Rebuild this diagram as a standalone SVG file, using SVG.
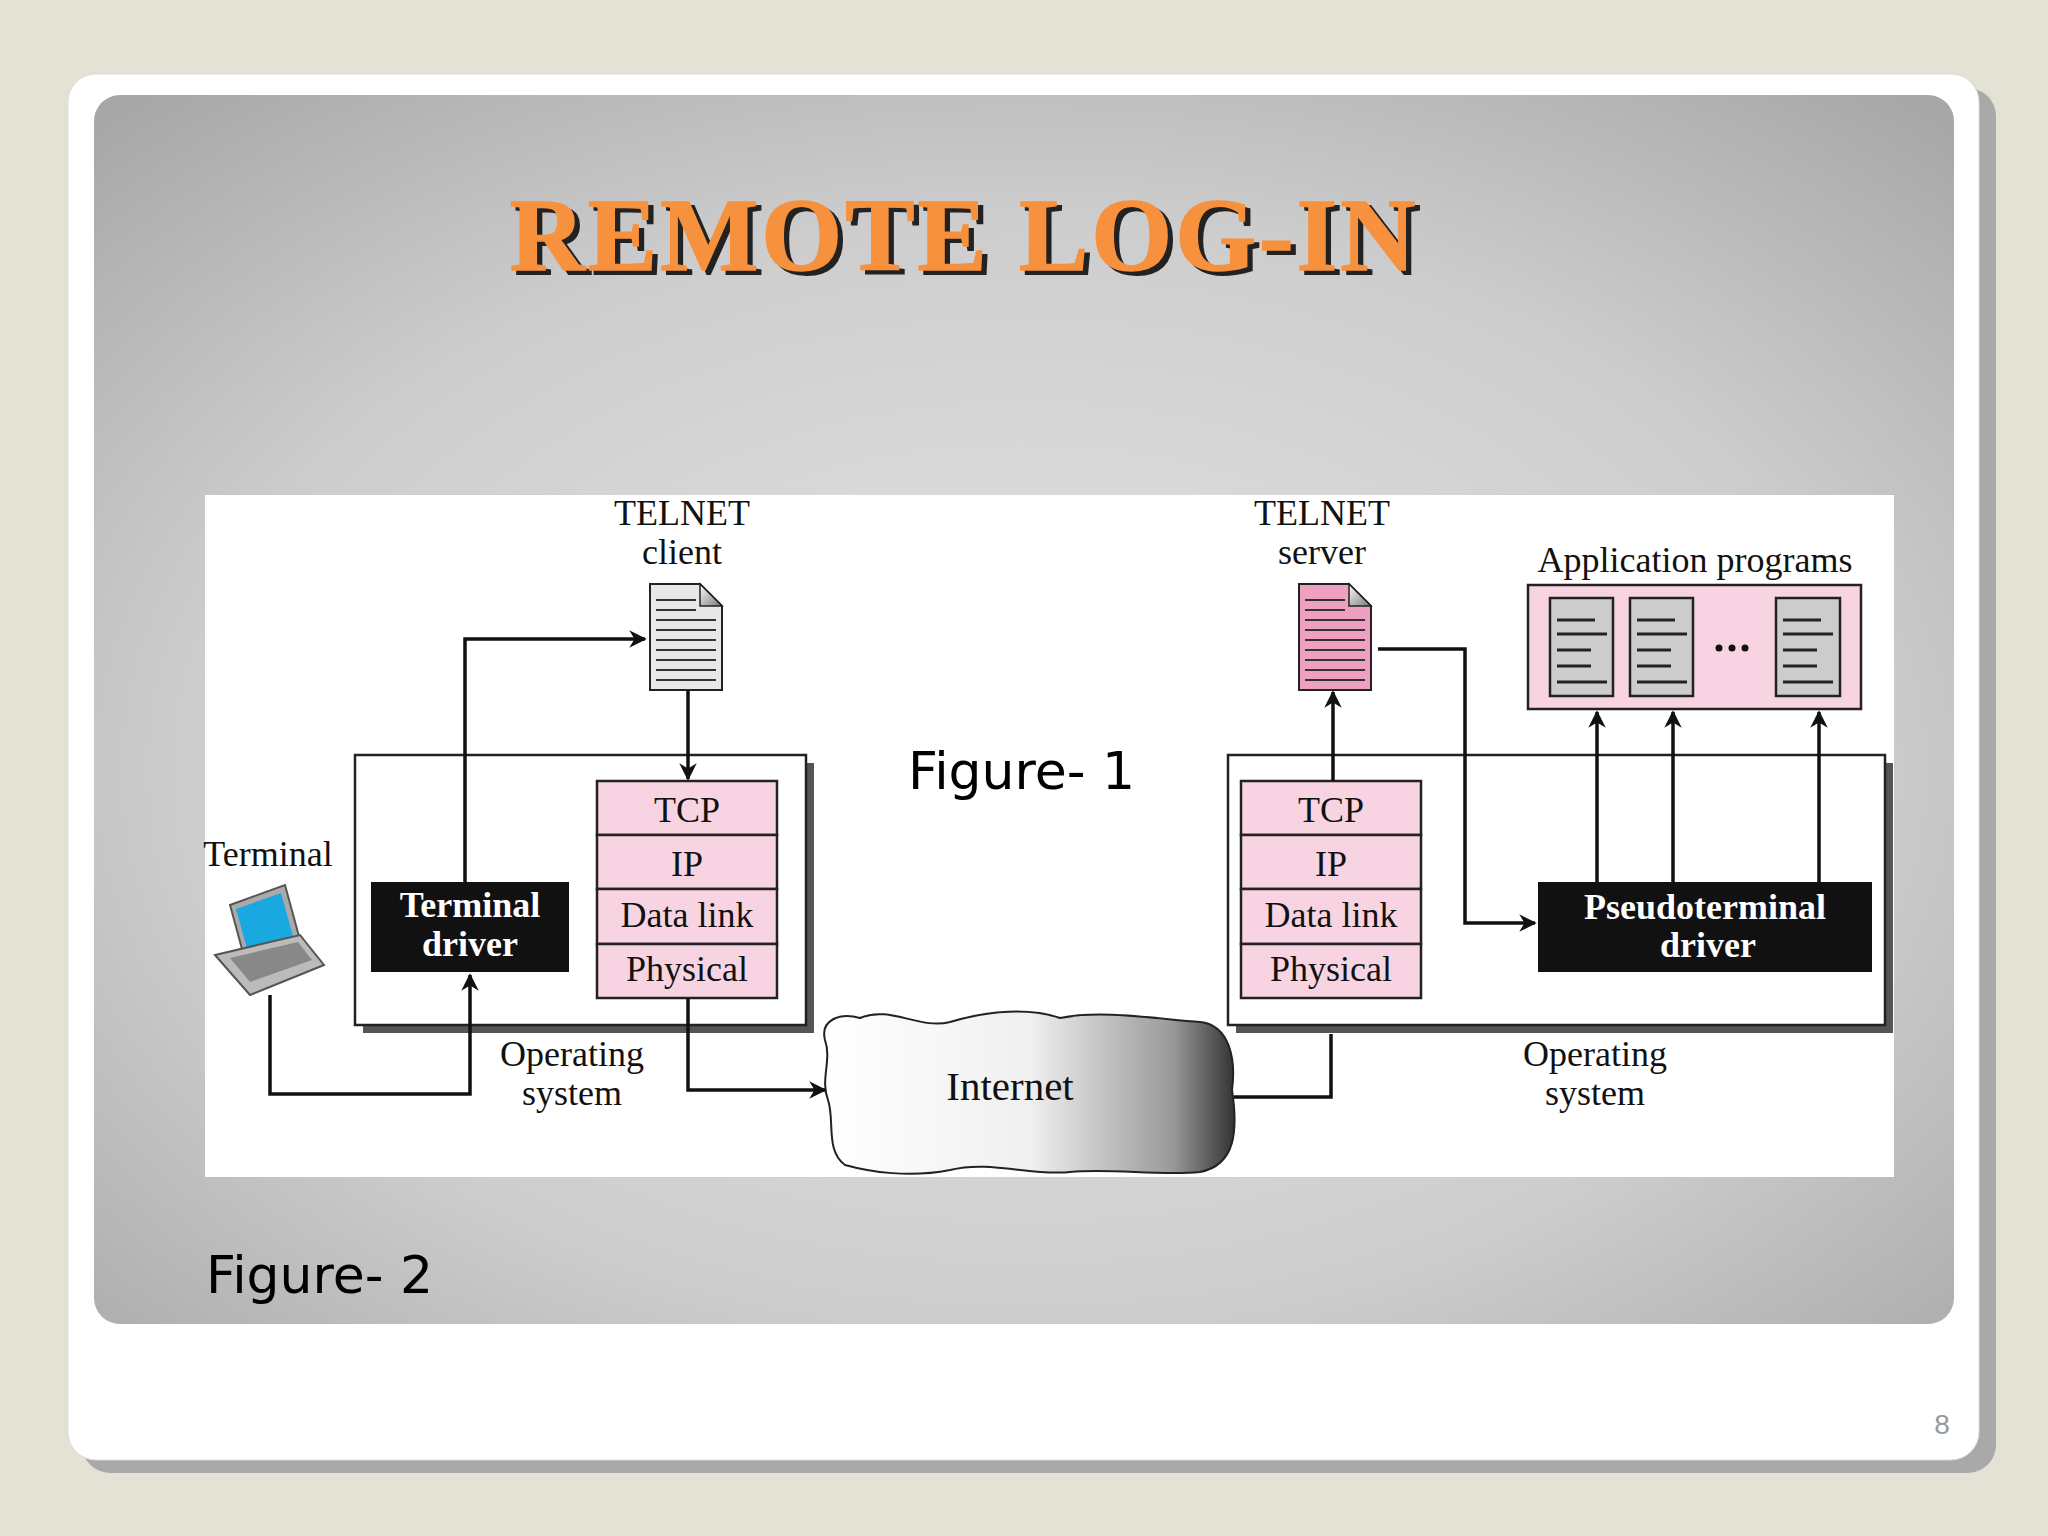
<svg xmlns="http://www.w3.org/2000/svg" width="2048" height="1536" viewBox="0 0 2048 1536">
<defs>
<radialGradient id="pg" cx="0.5" cy="0.55" r="0.75">
<stop offset="0" stop-color="#e6e6e6"/><stop offset="0.6" stop-color="#cdcdcd"/><stop offset="1" stop-color="#a4a4a4"/>
</radialGradient>
<linearGradient id="cg" x1="0" y1="0" x2="1" y2="0">
<stop offset="0" stop-color="#fff"/><stop offset="0.5" stop-color="#f0f0f0"/><stop offset="0.85" stop-color="#999"/><stop offset="1" stop-color="#333"/>
</linearGradient>
<linearGradient id="fold" x1="0" y1="0" x2="1" y2="1"><stop offset="0" stop-color="#fff"/><stop offset="1" stop-color="#777"/></linearGradient>
<marker id="ah" viewBox="0 0 10 10" refX="9" refY="5" markerWidth="5" markerHeight="5" orient="auto"><path d="M0,0 L10,5 L0,10 L3,5 Z" fill="#111"/></marker>
<style>
.t{font-family:"Liberation Serif",serif;font-size:36px;fill:#111;text-anchor:middle}
.b{font-family:"Liberation Serif",serif;font-size:36px;font-weight:bold;fill:#fff;text-anchor:middle}
.s{font-family:"DejaVu Sans","Noto Sans",sans-serif;font-size:52px;fill:#000}
.pk{fill:#f8d4e2;stroke:#222;stroke-width:2.5}
.c{fill:none;stroke:#111;stroke-width:3.5}
.ln{stroke:#333;stroke-width:2}
.ti{font-family:"Liberation Serif",serif;font-weight:bold;font-size:104px;letter-spacing:3px;text-anchor:middle}
</style>
</defs>
<rect width="2048" height="1536" fill="#e4e1d5"/>
<rect x="82" y="88" width="1914" height="1385" rx="28" fill="#a9a9a9"/>
<rect x="68" y="74" width="1911" height="1386" rx="28" fill="#fff" stroke="#ddd"/>
<rect x="94" y="95" width="1860" height="1229" rx="26" fill="url(#pg)"/>
<text class="ti" x="969" y="274" fill="#222" stroke="#222" stroke-width="2">REMOTE LOG-IN</text>
<text class="ti" x="964" y="270" fill="#f7913d" stroke="#f7913d" stroke-width="1.5">REMOTE LOG-IN</text>
<rect x="205" y="495" width="1689" height="682" fill="#fff"/>

<g id="os-left">
<rect x="363" y="763" width="451" height="270" fill="#555"/>
<rect x="355" y="755" width="451" height="270" fill="#fff" stroke="#222" stroke-width="2.5"/>
<text class="t" x="572" y="1066">Operating</text><text class="t" x="572" y="1105">system</text>
</g>
<g id="stack-left">
<rect class="pk" x="597" y="781" width="180" height="54"/><rect class="pk" x="597" y="835" width="180" height="54"/>
<rect class="pk" x="597" y="889" width="180" height="55"/><rect class="pk" x="597" y="944" width="180" height="54"/>
<text class="t" x="687" y="822">TCP</text><text class="t" x="687" y="876">IP</text><text class="t" x="687" y="927">Data link</text><text class="t" x="687" y="981">Physical</text>
</g>
<g id="terminal-driver">
<rect x="371" y="882" width="198" height="90" fill="#111"/>
<text class="b" x="470" y="917">Terminal</text><text class="b" x="470" y="956">driver</text>
</g>
<g id="telnet-client">
<text class="t" x="682" y="525">TELNET</text><text class="t" x="682" y="564">client</text>
<path d="M650,584 H700 L722,606 V690 H650 Z" fill="#e8e8e8" stroke="#222" stroke-width="2"/>
<path d="M700,584 V606 H722 Z" fill="url(#fold)" stroke="#222" stroke-width="1.5"/>
<g class="ln"><path d="M656,600h40M656,610h40M656,620h60M656,630h60M656,640h60M656,650h60M656,660h60M656,670h60M656,680h60"/></g>
</g>
<g id="terminal">
<text class="t" x="268" y="866">Terminal</text>
<path d="M230,905 L285,885 L300,940 L245,960 Z" fill="#aaa" stroke="#555" stroke-width="2"/>
<path d="M236,909 L281,893 L293,936 L248,952 Z" fill="#19a8e0"/>
<path d="M215,955 L300,935 L324,965 L250,995 Z" fill="#bbb" stroke="#555" stroke-width="2"/>
<path d="M230,958 L298,942 L312,960 L250,982 Z" fill="#888"/>
</g>
<g id="internet">
<path d="M825,1040 C820,1020 840,1012 860,1018 C890,1005 920,1030 950,1022 C990,1010 1030,1008 1060,1018 C1100,1010 1150,1018 1200,1022 C1230,1025 1236,1060 1232,1090 C1238,1130 1236,1165 1200,1172 C1160,1176 1110,1168 1070,1172 C1030,1176 990,1160 950,1170 C910,1178 870,1172 845,1165 C825,1150 835,1120 828,1100 C820,1080 832,1060 825,1040 Z" fill="url(#cg)" stroke="#222" stroke-width="2"/>
<text class="t" x="1010" y="1100" style="font-size:41px">Internet</text>
</g>
<text class="s" x="908" y="789">Figure- 1</text>
<text class="s" x="206" y="1293">Figure- 2</text>

<g id="os-right">
<rect x="1236" y="763" width="657" height="270" fill="#555"/>
<rect x="1228" y="755" width="657" height="270" fill="#fff" stroke="#222" stroke-width="2.5"/>
<text class="t" x="1595" y="1066">Operating</text><text class="t" x="1595" y="1105">system</text>
</g>
<g id="stack-right">
<rect class="pk" x="1241" y="781" width="180" height="54"/><rect class="pk" x="1241" y="835" width="180" height="54"/>
<rect class="pk" x="1241" y="889" width="180" height="55"/><rect class="pk" x="1241" y="944" width="180" height="54"/>
<text class="t" x="1331" y="822">TCP</text><text class="t" x="1331" y="876">IP</text><text class="t" x="1331" y="927">Data link</text><text class="t" x="1331" y="981">Physical</text>
</g>
<g id="pseudo-driver">
<rect x="1538" y="882" width="334" height="90" fill="#111"/>
<text class="b" x="1705" y="919">Pseudoterminal</text><text class="b" x="1708" y="957">driver</text>
</g>
<g id="telnet-server">
<text class="t" x="1322" y="525">TELNET</text><text class="t" x="1322" y="564">server</text>
<path d="M1299,584 H1349 L1371,606 V690 H1299 Z" fill="#ef9fbf" stroke="#222" stroke-width="2"/>
<path d="M1349,584 V606 H1371 Z" fill="url(#fold)" stroke="#222" stroke-width="1.5"/>
<g class="ln"><path d="M1305,600h40M1305,610h40M1305,620h60M1305,630h60M1305,640h60M1305,650h60M1305,660h60M1305,670h60M1305,680h60"/></g>
</g>
<g id="app-programs">
<text class="t" x="1695" y="572">Application programs</text>
<rect class="pk" x="1528" y="585" width="333" height="124"/>
<g fill="#ccc" stroke="#222" stroke-width="2.5">
<rect x="1550" y="598" width="63" height="98"/><rect x="1630" y="598" width="63" height="98"/><rect x="1776" y="598" width="64" height="98"/>
</g>
<g stroke="#222" stroke-width="3">
<path d="M1557,620h38M1557,634h50M1557,650h34M1557,666h34M1557,682h50"/>
<path d="M1637,620h38M1637,634h50M1637,650h34M1637,666h34M1637,682h50"/>
<path d="M1783,620h38M1783,634h50M1783,650h34M1783,666h34M1783,682h50"/>
</g>
<g fill="#111"><circle cx="1719" cy="648" r="3.5"/><circle cx="1732" cy="648" r="3.5"/><circle cx="1745" cy="648" r="3.5"/></g>
</g>

<g id="connectors" class="c" marker-end="url(#ah)">
<path d="M465,882 V639 H645"/>
<path d="M688,690 V779"/>
<path d="M270,995 V1094 H470 V975"/>
<path d="M688,998 V1090 H825"/>
<path d="M1234,1097 H1331 V1034" marker-end="none"/>
<path d="M1333,781 V692"/>
<path d="M1378,649 H1465 V923 H1535"/>
<path d="M1597,882 V712"/>
<path d="M1673,882 V712"/>
<path d="M1819,882 V712"/>
</g>
<text x="1942" y="1434" font-family="Liberation Sans,sans-serif" font-size="28" fill="#999" text-anchor="middle">8</text>
</svg>
